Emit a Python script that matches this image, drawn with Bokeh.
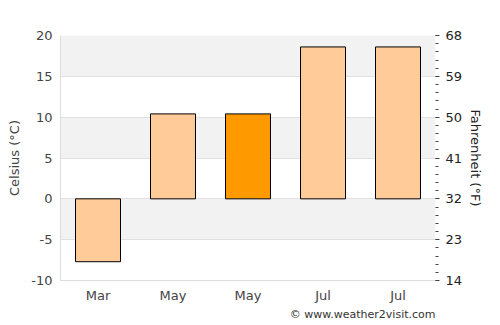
from bokeh.plotting import figure
from bokeh.models import (ColumnDataSource, Range1d, LinearAxis, FixedTicker, Title)
from bokeh.embed import file_html
from bokeh.resources import INLINE

months = ["Mar", "May", "May", "Jul", "Jul"]
celsius = [-7.7, 10.4, 10.4, 18.6, 18.6]
colors = ["#FFCC99", "#FFCC99", "#FF9900", "#FFCC99", "#FFCC99"]
c_ticks = [-10, -5, 0, 5, 10, 15, 20]
f_ticks = [14, 23, 32, 41, 50, 59, 68]

xs = list(range(len(months)))
src = ColumnDataSource(dict(x=xs, top=celsius, color=colors))

p = figure(width=500, height=325, output_backend="svg", toolbar_location=None,
           x_range=Range1d(-0.5, len(months) - 0.5), y_range=Range1d(-10, 20),
           min_border_left=60, min_border_right=65, min_border_top=35, min_border_bottom=45)
p.background_fill_color = "white"
p.border_fill_color = "white"
p.outline_line_color = None

p.vbar(x="x", top="top", bottom=0, width=0.6, fill_color="color",
       line_color="black", line_width=1, source=src)

font = "DejaVu Sans"
lab_color = "#444444"

p.xaxis.ticker = FixedTicker(ticks=xs)
p.xaxis.major_label_overrides = {i: m for i, m in enumerate(months)}
p.xaxis.major_tick_line_color = None
p.xaxis.major_tick_in = 0
p.xaxis.major_tick_out = 0
p.xaxis.minor_tick_line_color = None
p.xaxis.axis_line_color = "#dddddd"
p.xaxis.major_label_text_font = font
p.xaxis.major_label_text_font_size = "13px"
p.xaxis.major_label_text_color = lab_color
p.xaxis.major_label_standoff = 7

p.yaxis.ticker = FixedTicker(ticks=c_ticks)
p.yaxis.major_label_overrides = {t: str(t) for t in c_ticks}
p.yaxis.major_tick_line_color = None
p.yaxis.major_tick_in = 0
p.yaxis.major_tick_out = 0
p.yaxis.minor_tick_line_color = None
p.yaxis.axis_line_color = "#dddddd"
p.yaxis.axis_label = "Celsius (°C)"
p.yaxis.axis_label_standoff = 6
p.yaxis.axis_label_text_font = font
p.yaxis.axis_label_text_font_style = "normal"
p.yaxis.axis_label_text_font_size = "13px"
p.yaxis.axis_label_text_color = lab_color
p.yaxis.major_label_text_font = font
p.yaxis.major_label_text_font_size = "13px"
p.yaxis.major_label_text_color = lab_color
p.yaxis.major_label_standoff = 8

p.xgrid.grid_line_color = None
p.ygrid.ticker = FixedTicker(ticks=c_ticks)
p.ygrid.grid_line_color = "#e0e0e0"
p.ygrid.band_fill_color = "#f2f2f2"
p.ygrid.band_fill_alpha = 1.0

p.extra_y_ranges = {"f": Range1d(f_ticks[0], f_ticks[-1])}
minor = [round(f_ticks[0] + 1.8 * i, 2) for i in range(int((f_ticks[-1] - f_ticks[0]) / 1.8) + 1)]
raxis = LinearAxis(y_range_name="f", ticker=FixedTicker(ticks=f_ticks, minor_ticks=minor))
raxis.axis_line_color = None
raxis.major_tick_line_color = "#444444"
raxis.major_tick_in = 0
raxis.major_tick_out = 4
raxis.minor_tick_line_color = "#444444"
raxis.minor_tick_in = 0
raxis.minor_tick_out = 3
raxis.major_label_text_font = font
raxis.major_label_text_font_size = "13px"
raxis.major_label_text_color = "#222222"
raxis.major_label_standoff = 6
p.add_layout(raxis, "right")

ftitle = Title(text="Fahrenheit (°F)", align="center", text_font=font,
               text_font_size="13px", text_font_style="normal", text_color="#222222",
               offset=0, standoff=4)
p.add_layout(ftitle, "right")

credit = Title(text="© www.weather2visit.com", align="right", text_font=font,
               text_font_size="11px", text_font_style="normal", text_color="#333333",
               offset=0, standoff=0)
p.add_layout(credit, "below")

open("out.html", "w").write(file_html(p, INLINE))
